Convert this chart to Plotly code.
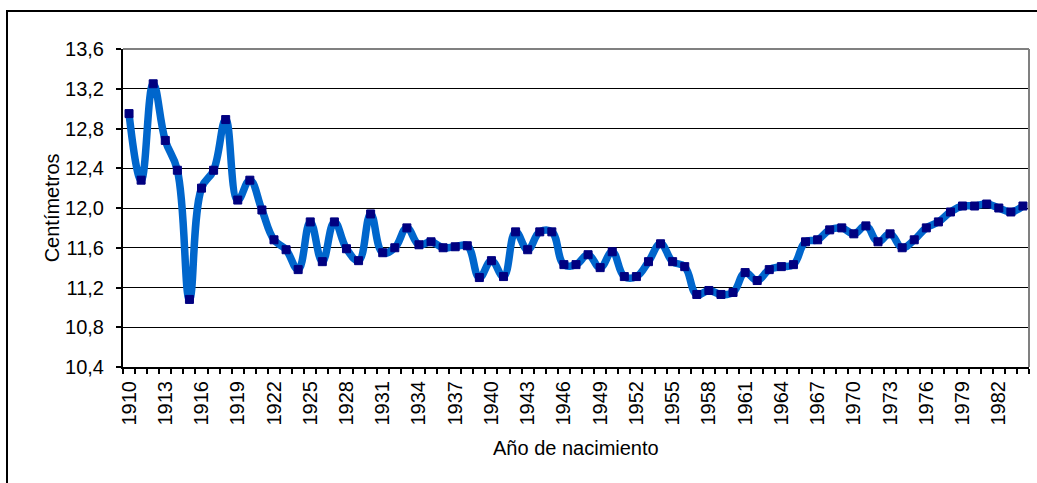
import plotly.graph_objects as go

years = list(range(1910, 1985))
values = [12.95, 12.28, 13.25, 12.68, 12.38, 11.08, 12.20, 12.38, 12.89, 12.08,
          12.28, 11.98, 11.68, 11.58, 11.38, 11.86, 11.46, 11.86, 11.59, 11.47,
          11.94, 11.55, 11.60, 11.80, 11.63, 11.66, 11.60, 11.61, 11.62, 11.30,
          11.47, 11.31, 11.76, 11.58, 11.76, 11.76, 11.43, 11.43, 11.53, 11.40,
          11.56, 11.31, 11.31, 11.46, 11.64, 11.46, 11.41, 11.13, 11.17, 11.13,
          11.15, 11.35, 11.27, 11.38, 11.41, 11.43, 11.66, 11.68, 11.78, 11.80,
          11.74, 11.82, 11.66, 11.74, 11.60, 11.68, 11.80, 11.86, 11.96, 12.02,
          12.02, 12.04, 12.00, 11.96, 12.02]
x_tick_years = list(range(1910, 1983, 3))
x_tick_labels = [str(y) for y in x_tick_years]
y_ticks = [10.4, 10.8, 11.2, 11.6, 12.0, 12.4, 12.8, 13.2, 13.6]

W, H = 1037, 483
L, R, T, B = 123, 1029, 49, 366.7
pw, ph = R - L, B - T

def px(xp):
    return (xp - L) / pw

def py(yp):
    return (B - yp) / ph

FONT = "Liberation Sans, Arial, sans-serif"
FS = 20

fig = go.Figure()
fig.add_trace(go.Scatter(
    x=years, y=values, mode="lines+markers",
    line=dict(color="#0066CC", width=7.5, shape="spline", smoothing=1.2),
    marker=dict(symbol="square", size=8, color="#000080",
                line=dict(color="#000080", width=1)),
    hoverinfo="x+y", showlegend=False,
))

fig.update_layout(
    width=W, height=H,
    margin=dict(l=L, r=W - R, t=T, b=H - B, pad=0, autoexpand=False),
    paper_bgcolor="white", plot_bgcolor="white",
    separators=",.",
    font=dict(family=FONT, size=FS, color="black"),
    xaxis=dict(
        range=[1909.5, 1984.5], automargin=False,
        tickmode="array", tickvals=x_tick_years, ticktext=x_tick_labels,
        tickangle=-90, ticks="outside", ticklen=1, tickcolor="rgba(0,0,0,0)",
        ticklabelstandoff=3,
        minor=dict(tickmode="linear", tick0=1909.5, dtick=1, ticks="outside",
                   ticklen=5, tickwidth=2, tickcolor="black", showgrid=False),
        showgrid=False, zeroline=False,
        showline=True, linecolor="black", linewidth=2,
        tickfont=dict(size=FS),
    ),
    yaxis=dict(
        range=[10.4, 13.6], automargin=False, tickmode="array", tickvals=y_ticks,
        tickformat=".1f", ticks="outside", ticklen=5, tickwidth=2,
        tickcolor="black", ticklabelstandoff=8,
        showgrid=True, gridcolor="black", gridwidth=1, zeroline=False,
        showline=True, linecolor="black", linewidth=2,
        tickfont=dict(size=FS),
    ),
    shapes=[
        dict(type="line", xref="paper", yref="paper", x0=0, x1=1, y0=1, y1=1,
             line=dict(color="#808080", width=2), layer="above"),
        dict(type="line", xref="paper", yref="paper", x0=1, x1=1, y0=0, y1=1,
             line=dict(color="#808080", width=2), layer="above"),
        dict(type="rect", xref="paper", yref="paper",
             x0=px(7), x1=px(1045), y0=py(491), y1=py(11),
             line=dict(color="black", width=2), fillcolor="rgba(0,0,0,0)"),
    ],
    annotations=[
        dict(text="Año de nacimiento", xref="paper", yref="paper",
             x=px(575.5), y=py(448), xanchor="center", yanchor="middle",
             showarrow=False, font=dict(size=FS)),
        dict(text="Centímetros", xref="paper", yref="paper",
             x=px(51.7), y=py(207.5), xanchor="center", yanchor="middle",
             textangle=-90, showarrow=False, font=dict(size=FS)),
    ],
)

fig.write_html(
    "out.html",
    config={"displayModeBar": False},
    post_script="document.body.style.margin='0';document.body.style.overflow='hidden';",
)
